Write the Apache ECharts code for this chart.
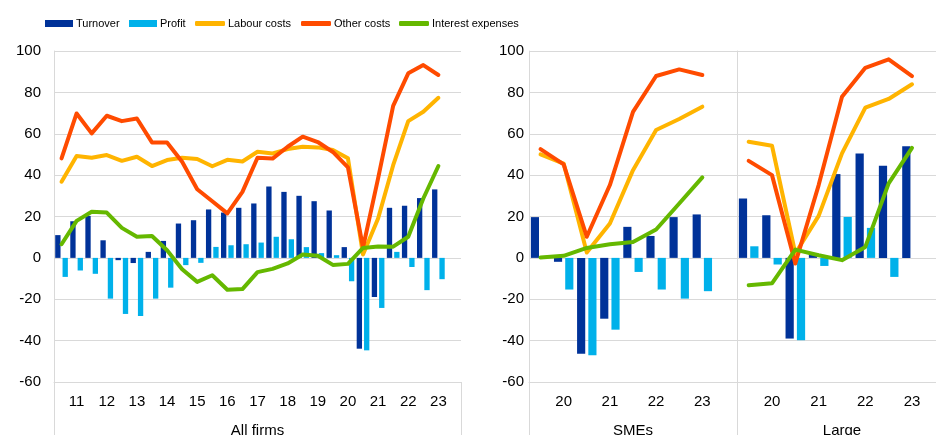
<!DOCTYPE html>
<html>
<head>
<meta charset="utf-8">
<script src="https://cdn.jsdelivr.net/npm/echarts@6/dist/echarts.min.js"></script>
<style>
  html, body { margin: 0; padding: 0; background: #fff; }
  #chart { width: 936px; height: 435px; }
</style>
</head>
<body>
<div id="chart"></div>
<script>
// survey rounds (half-years); the year label sits on the H1 round
const allPeriods = ['2010H2', '2011H1', '2011H2', '2012H1', '2012H2', '2013H1', '2013H2', '2014H1', '2014H2',
  '2015H1', '2015H2', '2016H1', '2016H2', '2017H1', '2017H2', '2018H1', '2018H2', '2019H1', '2019H2',
  '2020H1', '2020H2', '2021H1', '2021H2', '2022H1', '2022H2', '2023H1'];
const sizePeriods = ['2019H2', '2020H1', '2020H2', '2021H1', '2021H2', '2022H1', '2022H2', '2023H1'];
const panelNames = ['All firms', 'SMEs', 'Large'];
const yTicks = [-60, 100, 20]; // min, max, step

// All firms
const allTurnover = [11, 17.7, 20.3, 8.5, -1.1, -2.5, 2.9, 8.2, 16.6, 18.2, 23.4, 21.9, 24.2, 26.3, 34.5, 31.9, 30, 27.4, 22.9, 5.2, -43.9, -18.9, 24.2, 25.2, 28.9, 33.1];
const allProfit = [-9.2, -6.1, -7.7, -19.7, -27.1, -28.1, -19.7, -14.4, -3.5, -2.4, 5.3, 6.1, 6.6, 7.4, 10.2, 9, 5.2, 2.3, 1.3, -11.3, -44.7, -24.2, 2.9, -4.4, -15.6, -10.3];
const allLabour = [36.8, 49.2, 48.4, 49.7, 46.9, 48.9, 44.4, 47.3, 48.4, 47.8, 44.3, 47.4, 46.6, 51.3, 50.5, 52.6, 53.7, 53.4, 52.1, 48.1, 1.6, 19, 44.8, 66.1, 70.6, 77.4];
const allOther = [48.1, 69.8, 60.2, 68.7, 66.1, 67.4, 55.8, 55.8, 46.5, 33.2, 27.4, 21.5, 31.9, 48.4, 48, 53.7, 58.6, 56, 51.2, 43.7, 5, 38.4, 73.5, 89.2, 93.2, 88.4];
const allInterest = [6.6, 17.9, 22.3, 21.9, 14.5, 10.2, 10.6, 3.7, -5.5, -11.6, -8.4, -15.4, -15.1, -6.9, -5.3, -2.7, 1.6, 1, -3.4, -2.9, 4.8, 5.5, 5.4, 10.2, 28.7, 44.4];

// SMEs
const smeTurnover = [19.7, -1.9, -46.3, -29.4, 15, 10.6, 19.7, 21];
const smeProfit = [null, -15.3, -47.1, -34.7, -6.8, -15.3, -19.7, -16.1];
const smeLabour = [50, 45.6, 2.6, 16.6, 42.4, 61.8, 67.1, 73.1];
const smeOther = [52.6, 45.2, 10.2, 35.2, 70.6, 87.9, 91.1, 88.4];
const smeInterest = [0.2, 1, 4.8, 6.6, 7.7, 13.7, 26.3, 38.9];

// Large firms
const largeTurnover = [28.7, 20.6, -39, 1.5, 40.5, 50.5, 44.5, 54];
const largeProfit = [5.6, -3.2, -39.8, -3.9, 19.8, 14.5, -9.2, null];
const largeLabour = [56.1, 54.2, 2.1, 20.3, 50.5, 72.6, 76.8, 83.9];
const largeOther = [46.9, 40, -2.7, 35.2, 77.9, 91.9, 96, 87.9];
const largeInterest = [-13.2, -12.3, 4, 1.3, -1.1, 5.3, 36, 53.2];

const FONT = "'Liberation Sans', Arial, sans-serif";
const LINE_GREY = '#d9d9d9';
const colors = {
  'Turnover': '#003299',
  'Profit': '#00b1ea',
  'Labour costs': '#ffb400',
  'Other costs': '#ff4b00',
  'Interest expenses': '#65b800'
};

const panels = [
  { cats: allPeriods, d: [allTurnover, allProfit, allLabour, allOther, allInterest] },
  { cats: sizePeriods, d: [smeTurnover, smeProfit, smeLabour, smeOther, smeInterest] },
  { cats: sizePeriods, d: [largeTurnover, largeProfit, largeLabour, largeOther, largeInterest] }
];
const seriesNames = ['Turnover', 'Profit', 'Labour costs', 'Other costs', 'Interest expenses'];

const grid = [
  { left: 54, top: 51, width: 407, height: 331, outerBoundsMode: 'none', containLabel: false },
  { left: 529, top: 51, width: 208, height: 331, outerBoundsMode: 'none', containLabel: false },
  { left: 737, top: 51, width: 210, height: 331, outerBoundsMode: 'none', containLabel: false }
];

const xAxis = panels.map((p, i) => ({
  type: 'category',
  gridIndex: i,
  data: p.cats.concat(['']), // one empty slot at the end of each block
  position: 'bottom',
  name: panelNames[i],
  nameLocation: 'middle',
  nameGap: 41,
  nameTextStyle: { color: '#000', fontSize: 15, fontFamily: FONT },
  axisLine: { show: true, onZero: false, lineStyle: { color: LINE_GREY } },
  axisTick: { show: true, alignWithLabel: false, interval: (idx) => idx === 0, length: 53, lineStyle: { color: LINE_GREY } },
  axisLabel: {
    interval: 0, margin: 12, color: '#000', fontSize: 15, fontFamily: FONT,
    formatter: v => v.endsWith('H1') ? v.slice(2, 4) : ''
  },
  splitLine: { show: false }
}));

const yAxis = panels.map((p, i) => ({
  type: 'value',
  gridIndex: i,
  min: yTicks[0], max: yTicks[1], interval: yTicks[2],
  axisLine: { show: true, lineStyle: { color: LINE_GREY } },
  axisTick: { show: false },
  axisLabel: { show: i < 2, margin: i === 0 ? 13 : 5, color: '#000', fontSize: 15, fontFamily: FONT },
  splitLine: { lineStyle: { color: LINE_GREY, width: 1 } }
}));

const series = [];
panels.forEach((p, i) => {
  seriesNames.forEach((name, j) => {
    const s = {
      name: name,
      type: j < 2 ? 'bar' : 'line',
      xAxisIndex: i,
      yAxisIndex: i,
      data: p.d[j],
      color: colors[name],
      silent: true
    };
    if (j < 2) {
      s.barGap = '38%';
      s.barCategoryGap = '16%';
    } else {
      s.symbol = 'none';
      s.lineStyle = { width: 4, cap: 'round', join: 'round' };
    }
    series.push(s);
  });
});

const legendPos = [45, 129, 195, 301, 399];
const legend = seriesNames.map((name, j) => ({
  data: [{ name: name, icon: j < 2 ? 'rect' : 'roundRect' }],
  left: legendPos[j],
  top: 18,
  padding: 0,
  itemWidth: j < 2 ? 28 : 30,
  itemHeight: j < 2 ? 7 : 5,
  selectedMode: false,
  textStyle: { color: '#000', fontSize: 11, fontFamily: FONT, padding: [0, 0, 0, -2] }
}));

const chart = echarts.init(document.getElementById('chart'));
chart.setOption({
  animation: false,
  backgroundColor: '#fff',
  grid: grid,
  xAxis: xAxis,
  yAxis: yAxis,
  legend: legend,
  series: series
});
</script>
</body>
</html>
